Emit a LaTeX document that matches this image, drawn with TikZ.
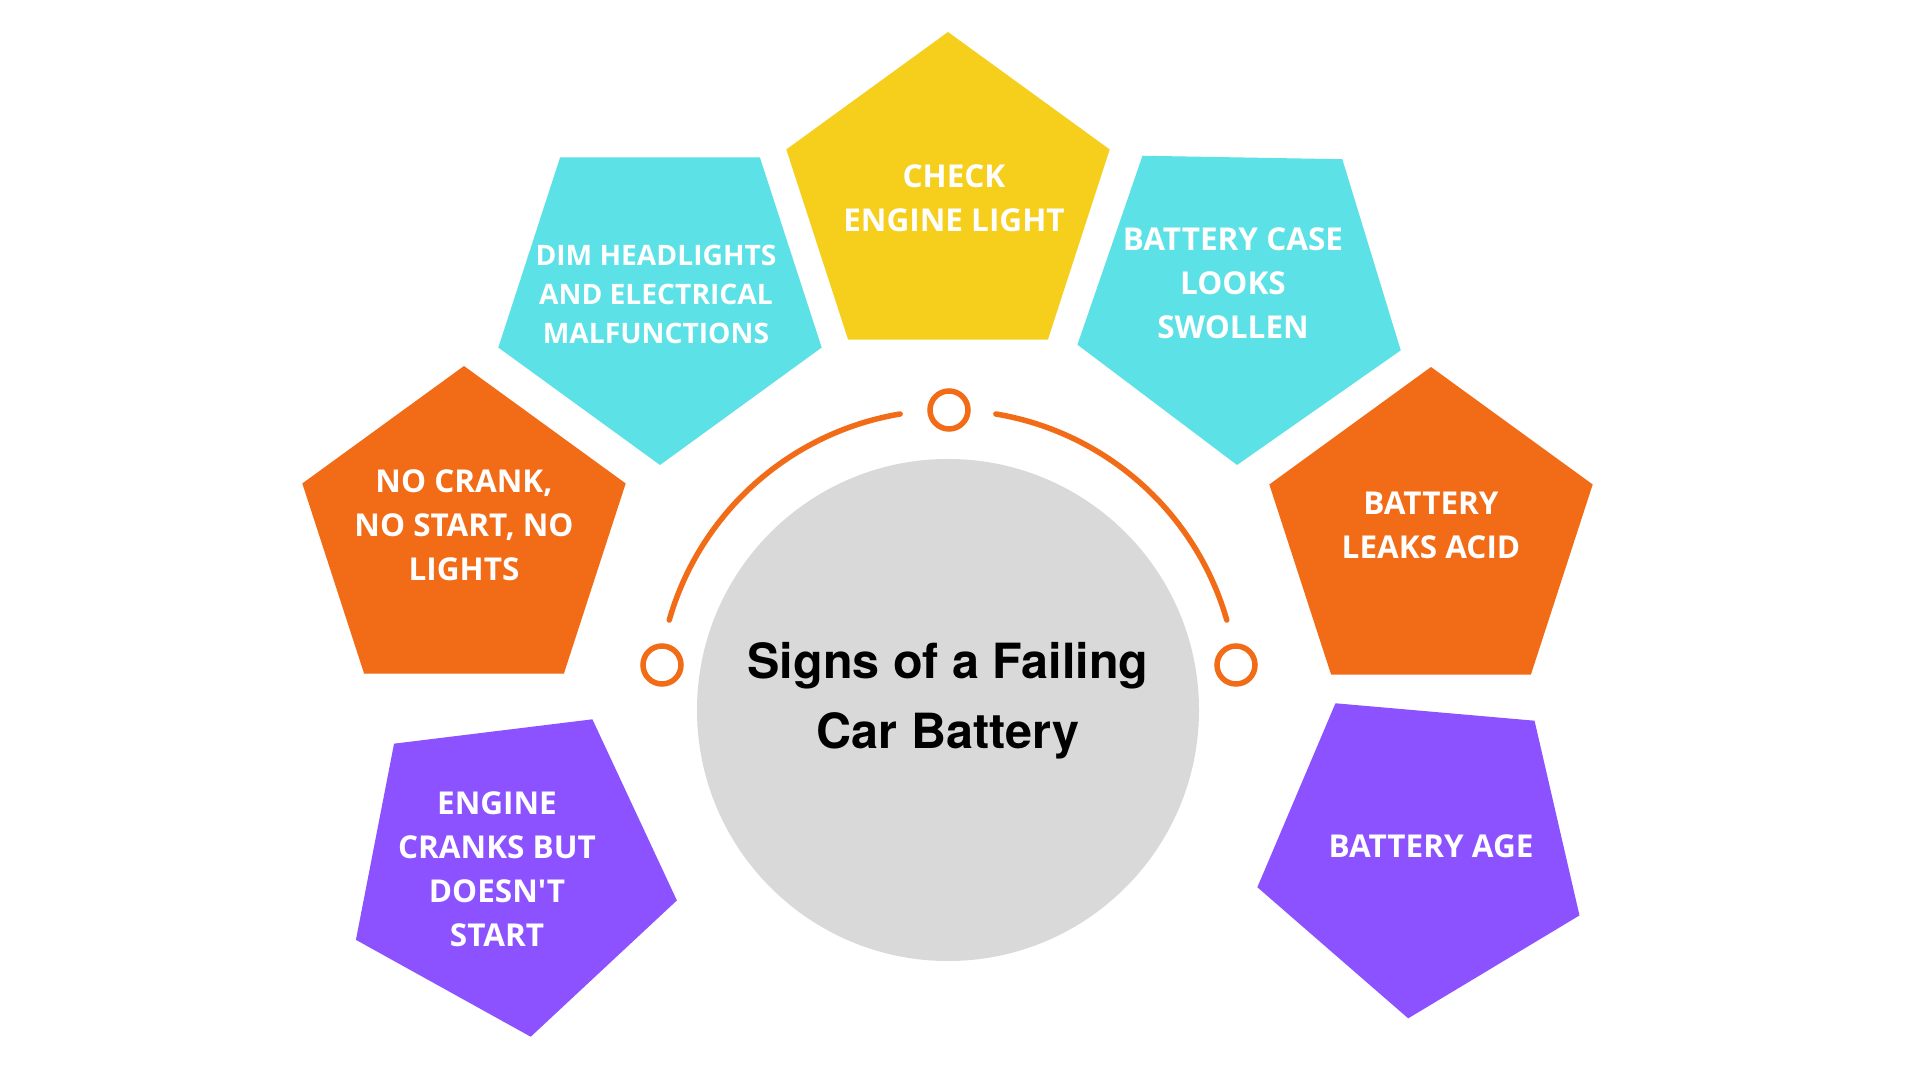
\documentclass[tikz,border=0pt]{standalone}
\usepackage{fontspec}
\newfontfamily\pentfont{Open Sans}
\newfontfamily\ttlfont{TeX Gyre Heros}
\usetikzlibrary{shapes.geometric}
\definecolor{orng}{HTML}{F26B17}
\definecolor{cyn}{HTML}{5CE1E6}
\definecolor{ylw}{HTML}{F6CE1C}
\definecolor{prpl}{HTML}{8C52FF}
\definecolor{gry}{HTML}{D9D9D9}
\begin{document}
\begin{tikzpicture}[x=1pt,y=1pt,
pent/.style={regular polygon,regular polygon sides=5,minimum size=340pt,inner sep=0pt,draw=none},
txt/.style={text=white,align=center,font=\pentfont\bfseries\fontsize{31.5}{44}\selectfont},
dot/.style={circle,draw=orng,line width=5.5pt,minimum size=38pt,inner sep=0pt},
rim/.style={draw=orng,line width=5.5pt,line cap=round}
]
\useasboundingbox(0,0)rectangle(1920,1080);
\fill[white](0,0)rectangle(1920,1080);
\node[pent,fill=ylw]at(948,878)(chk){};
\node[pent,fill=cyn,shape border rotate=180]at(660,785)(dim){};
\node[pent,fill=cyn,shape border rotate=179]at(1240,785)(swl){};
\node[pent,fill=orng]at(464,544)(ncr){};
\node[pent,fill=orng]at(1431,543)(acd){};
\node[pent,fill=prpl,shape border rotate=187]at(510,212)(crk){};
\node[pent,fill=prpl,shape border rotate=175]at(1423,231)(age){};
\node[txt]at(954,882)(tchk){CHECK\\ENGINE LIGHT};
\node[txt,font=\pentfont\bfseries\fontsize{28.2}{39}\selectfont]at(656,786)(tdim){DIM HEADLIGHTS\\AND ELECTRICAL\\MALFUNCTIONS};
\node[txt]at(1233,797)(tswl){BATTERY CASE\\LOOKS\\SWOLLEN};
\node[txt]at(464,555)(tncr){NO CRANK,\\NO START, NO\\LIGHTS};
\node[txt]at(1431,555)(tacd){BATTERY\\LEAKS ACID};
\node[txt]at(497,211)(tcrk){ENGINE\\CRANKS BUT\\DOESN'T\\START};
\node[txt]at(1431,234)(tage){BATTERY AGE};
\node[circle,fill=gry,minimum size=502pt,inner sep=0pt]at(948,370)(hub){};
\node[font=\ttlfont\bfseries\fontsize{48.5}{70}\selectfont,align=center]at(948,379)(ttl){Signs of a Failing\\Car Battery};
\coordinate(ctr)at(948,380);
\draw[rim]([shift={(99.5:290)}]ctr)arc[start angle=99.5,end angle=164,radius=290];
\draw[rim]([shift={(16:290)}]ctr)arc[start angle=16,end angle=80.5,radius=290];
\node[dot]at(949,670)(dtop){};
\node[dot]at(662,415)(dlft){};
\node[dot]at(1236,415)(drgt){};
\end{tikzpicture}
\end{document}
